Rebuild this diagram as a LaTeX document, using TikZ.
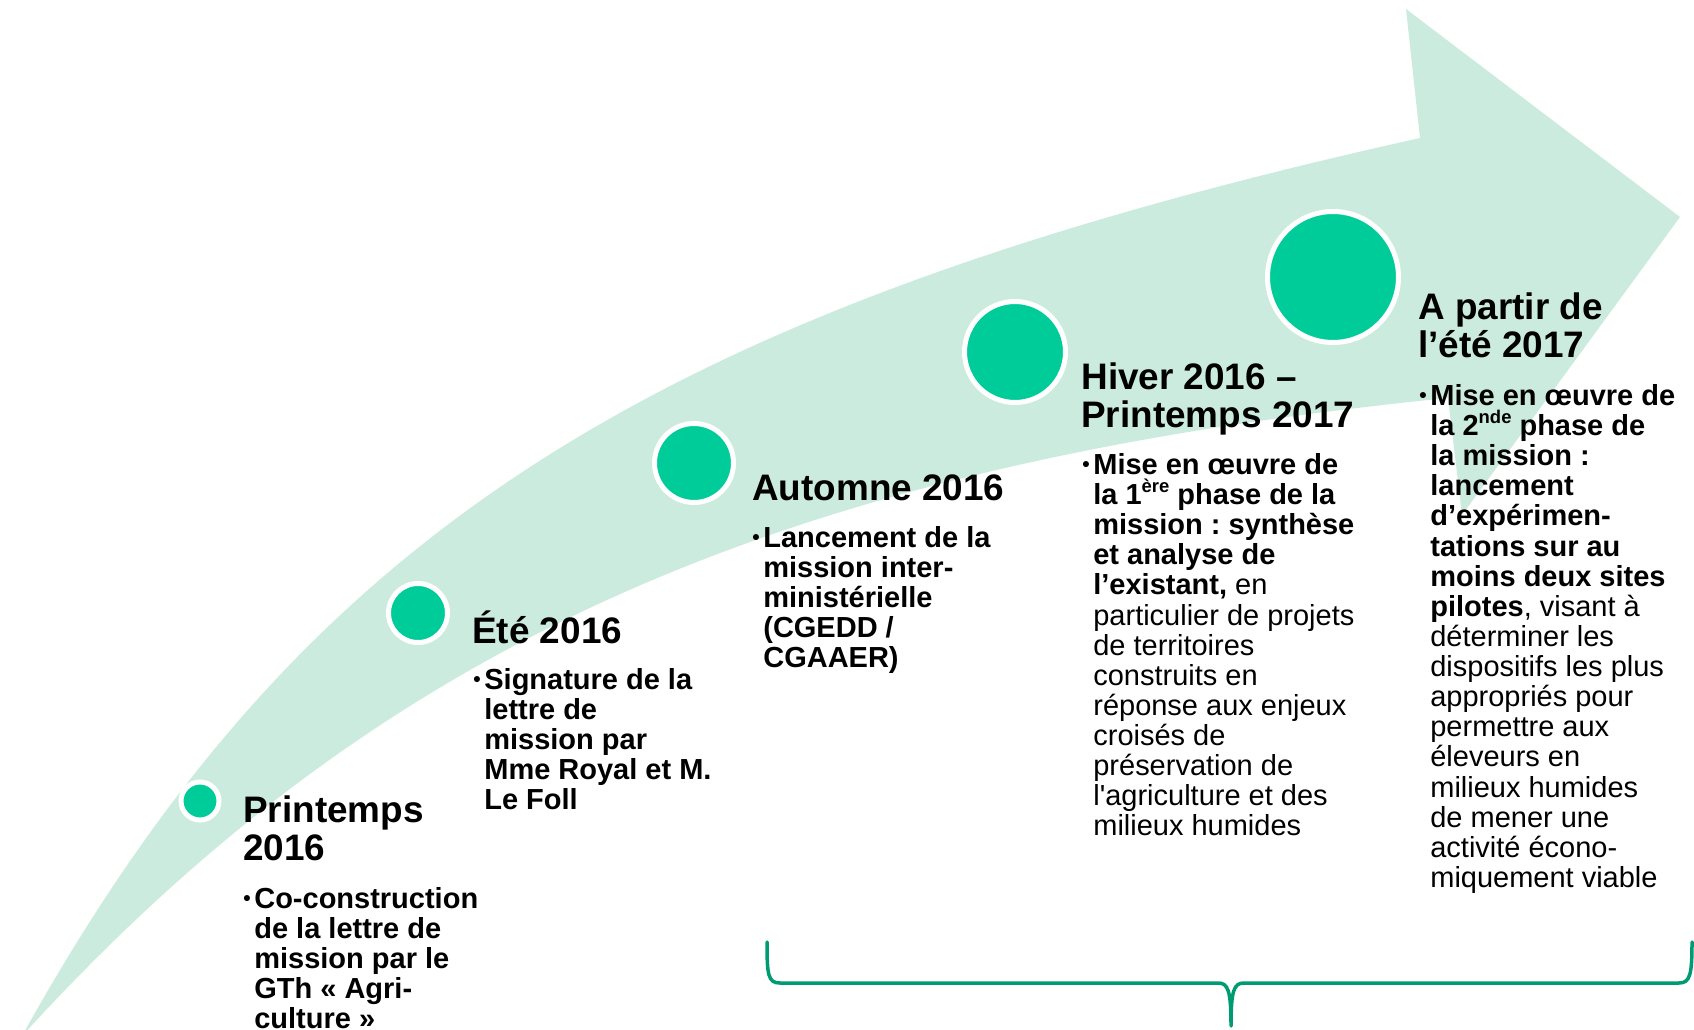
\documentclass[tikz,border=0pt]{standalone}
\usepackage{fontspec}
\setmainfont{Liberation Sans}
\frenchspacing
\definecolor{bandc}{RGB}{204,235,223}
\definecolor{dotc}{RGB}{0,204,153}
\definecolor{bracec}{RGB}{0,155,115}
\newcommand\supx[1]{\smash{\raisebox{0.42em}{\fontsize{10.5}{10.5}\selectfont #1}}}
\newcommand\bul{\llap{\raisebox{1.5pt}{\fontsize{12}{12}\selectfont\textbullet}\hspace{2pt}}}
\newcommand\hstrut{\rule{0pt}{0.8cm}}
\newcommand\bstrut{\rule{0pt}{0.6cm}}
\tikzset{
  head/.style={anchor=north west, inner sep=0pt, align=left, font=\fontsize{21}{21.8}\selectfont\bfseries},
  bodyb/.style={anchor=north west, inner sep=0pt, align=left, font=\fontsize{16.5}{17.15}\selectfont\bfseries},
  bodyr/.style={anchor=north west, inner sep=0pt, align=left, font=\fontsize{16.5}{17.15}\selectfont},
  dotnode/.style={circle, fill=dotc, draw=white, line width=0.1cm, inner sep=0pt},
  bracepath/.style={draw=bracec, line width=0.07cm, line cap=round, line join=round},
}
\begin{document}
\begin{tikzpicture}[x=0.02cm, y=-0.02cm]
\useasboundingbox (0,0) rectangle (1694,1030);
\clip (0,0) rectangle (1694,1030);
% arrow band
\fill[bandc] (22,1036) .. controls (302,532) and (651,309) .. (1420,138)
  -- (1406,9) -- (1680,217) -- (1462,515) -- (1448,398)
  .. controls (781,465) and (381,642) .. (22,1036) -- cycle;
% dots
\node[dotnode, minimum size=0.76cm] (c1) at (200,801) {};
\node[dotnode, minimum size=1.18cm] (c2) at (418,613) {};
\node[dotnode, minimum size=1.58cm] (c3) at (694,463) {};
\node[dotnode, minimum size=2.02cm] (c4) at (1015,352) {};
\node[dotnode, minimum size=2.62cm] (c5) at (1333,277) {};
% headings
\node[head] (h1) at (243,782) {\hstrut Printemps\\2016};
\node[head] (h2) at (472,603) {\hstrut Été 2016};
\node[head] (h3) at (752,460) {\hstrut Automne 2016};
\node[head] (h4) at (1081,349) {\hstrut Hiver 2016 –\\Printemps 2017};
\node[head] (h5) at (1418,279) {\hstrut A partir de\\l’été 2017};
% bodies
\node[bodyb] (b1) at (254,878) {\bstrut\bul Co-construction\\de la lettre de\\mission par le\\GTh « Agri-\\culture »};
\node[bodyb] (b2) at (484,659) {\bstrut\bul Signature de la\\lettre de\\mission par\\Mme Royal et M.\\Le Foll};
\node[bodyb] (b3) at (763,517) {\bstrut\bul Lancement de la\\mission inter-\\ministérielle\\(CGEDD /\\CGAAER)};
\node[bodyr] (b4) at (1093,444) {\bstrut\textbf{\bul Mise en œuvre de}\\
\textbf{la 1\supx{ère} phase de la}\\
\textbf{mission : synthèse}\\
\textbf{et analyse de}\\
\textbf{l’existant,} en\\
particulier de projets\\
de territoires\\
construits en\\
réponse aux enjeux\\
croisés de\\
préservation de\\
l\textquotesingle agriculture et des\\
milieux humides};
\node[bodyr] (b5) at (1430,375) {\bstrut\textbf{\bul Mise en œuvre de}\\
\textbf{la 2\supx{nde} phase de}\\
\textbf{la mission :}\\
\textbf{lancement}\\
\textbf{d’expérimen-}\\
\textbf{tations sur au}\\
\textbf{moins deux sites}\\
\textbf{pilotes}, visant à\\
déterminer les\\
dispositifs les plus\\
appropriés pour\\
permettre aux\\
éleveurs en\\
milieux humides\\
de mener une\\
activité écono-\\
miquement viable};
% brace
\coordinate (brL) at (767,942);
\coordinate (brM) at (1231,1026);
\coordinate (brR) at (1692,942);
\draw[bracepath] (brL) .. controls (767,975) and (768,983) .. (780,983)
  -- (1218,983) .. controls (1228,983) and (1231,990) .. (brM)
  .. controls (1231,990) and (1234,983) .. (1244,983)
  -- (1679,983) .. controls (1690,983) and (1692,975) .. (brR);
\end{tikzpicture}
\end{document}
